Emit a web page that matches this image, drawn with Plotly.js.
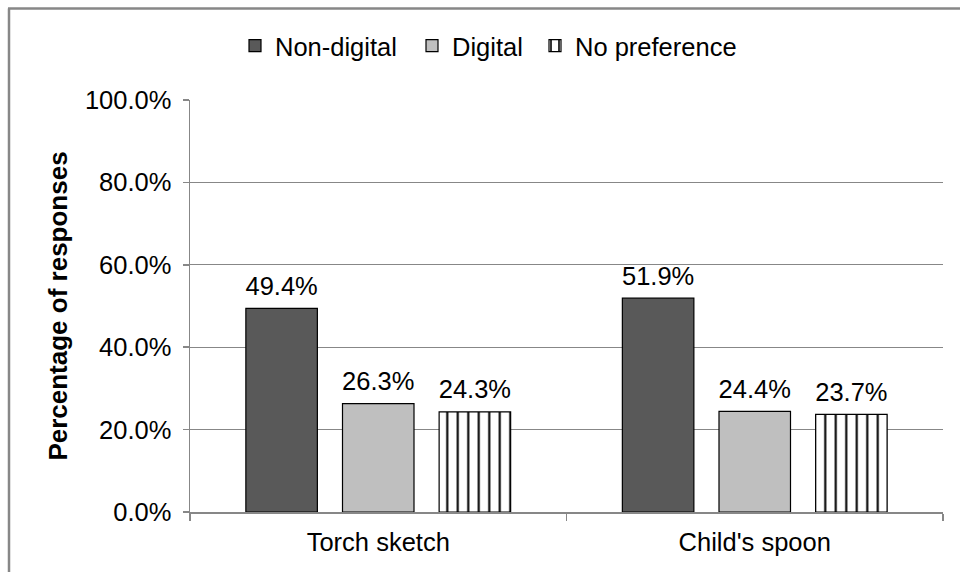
<!DOCTYPE html>
<html>
<head>
<meta charset="utf-8">
<script src="https://cdn.plot.ly/plotly-3.0.1.min.js"></script>
<style>html,body{margin:0;padding:0;background:#fff;}#chart{width:960px;height:572px;}</style>
</head>
<body>
<div id="chart"></div>
<script>
const categories = ["Torch sketch", "Child's spoon"];
const seriesNames = ["Non-digital", "Digital", "No preference"];
const nonDigital = [49.4, 51.9];
const digital = [26.3, 24.4];
const noPreference = [24.3, 23.7];
const yTickValues = [0, 20, 40, 60, 80, 100];
const yTickLabels = ["0.0%", "20.0%", "40.0%", "60.0%", "80.0%", "100.0%"];

const FONT = "Liberation Sans, Arial, sans-serif";
const FS = 25.5;
const seriesValues = [nonDigital, digital, noPreference];
const fills = ["#595959", "#BFBFBF", "#FFFFFF"];
const legendIds = ["legend", "legend2", "legend3"];

const traces = [];
seriesValues.forEach((vals, i) => {
  const marker = { color: fills[i], line: { color: "#000000", width: 1.2 } };
  if (i === 2) {
    marker.pattern = { shape: "|", fgcolor: "#000000", bgcolor: "#FFFFFF", size: 10.5, solidity: 0.2, fillmode: "replace" };
  }
  traces.push({
    type: "bar", name: seriesNames[i], x: categories, y: vals,
    offsetgroup: String(i), marker: marker, hoverinfo: "skip",
    legend: legendIds[i]
  });
});
seriesValues.forEach((vals, i) => {
  traces.push({
    type: "scatter", mode: "markers+text", x: categories, y: vals,
    offsetgroup: String(i), showlegend: false, hoverinfo: "skip",
    text: vals.map(v => v.toFixed(1) + "%"), textposition: "top center",
    textfont: { family: FONT, size: FS, color: "#000000" },
    marker: { size: 10, opacity: 0 }, cliponaxis: false
  });
});

const L = 190, R = 17, T = 100, B = 60, W = 960, H = 572;
const pw = W - L - R, ph = H - T - B;
const px = x => (x - L) / pw;
const py = y => 1 - (y - T) / ph;

function legendAt(xpix) {
  return {
    orientation: "h", x: px(xpix), xanchor: "left", y: py(46), yanchor: "middle",
    font: { family: FONT, size: FS, color: "#000000" }, bgcolor: "rgba(0,0,0,0)",
    itemclick: false, itemdoubleclick: false
  };
}

const layout = {
  width: W, height: H,
  margin: { l: L, r: R, t: T, b: B, pad: 0 },
  paper_bgcolor: "#FFFFFF", plot_bgcolor: "#FFFFFF",
  font: { family: FONT, size: FS, color: "#000000" },
  barmode: "group", bargap: 0.23, bargroupgap: 0.26,
  scattermode: "group", scattergap: 0.23,
  showlegend: true,
  legend: legendAt(235),
  legend2: legendAt(412),
  legend3: legendAt(535),
  xaxis: {
    type: "category", showgrid: false, zeroline: false,
    showline: true, linecolor: "#878787", linewidth: 1.5,
    ticks: "outside", tickson: "boundaries", ticklen: 7, tickcolor: "#878787", tickwidth: 1.5,
    ticklabelstandoff: 7,
    tickfont: { family: FONT, size: FS, color: "#000000" }, fixedrange: true
  },
  yaxis: {
    range: [0, 100], tickvals: yTickValues, ticktext: yTickLabels,
    showgrid: true, gridcolor: "#878787", gridwidth: 1.2, zeroline: false,
    showline: true, linecolor: "#878787", linewidth: 1.5,
    ticks: "outside", ticklen: 6, tickcolor: "#878787", tickwidth: 1.5,
    ticklabelstandoff: 6,
    tickfont: { family: FONT, size: FS, color: "#000000" },
    title: { text: "<b>Percentage of responses</b>", font: { family: FONT, size: 26, color: "#000000" }, standoff: 10 },
    fixedrange: true
  },
  shapes: [
    { type: "line", xref: "paper", yref: "paper", x0: px(9), x1: px(9), y0: py(600), y1: py(8.5), line: { color: "#878787", width: 2.5 } },
    { type: "line", xref: "paper", yref: "paper", x0: px(8), x1: px(990), y0: py(8.5), y1: py(8.5), line: { color: "#878787", width: 2.5 } }
  ]
};

Plotly.newPlot("chart", traces, layout, { displayModeBar: false, staticPlot: true });
</script>
</body>
</html>
